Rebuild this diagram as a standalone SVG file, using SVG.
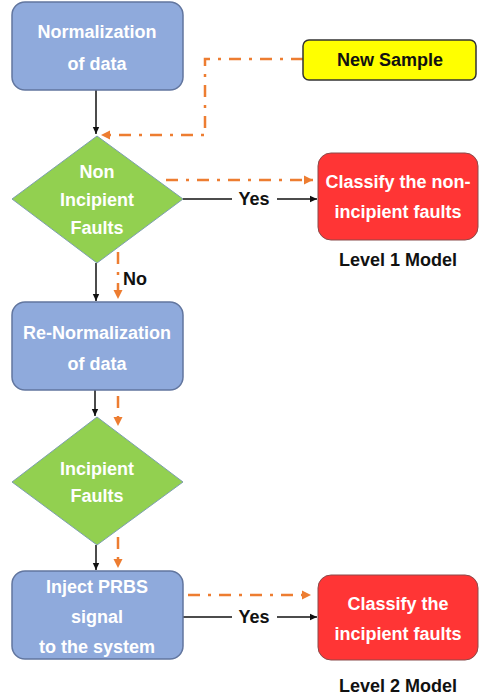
<svg xmlns="http://www.w3.org/2000/svg" width="480" height="698" viewBox="0 0 480 698">
  <style>
    .proc { fill: #8FAADC; stroke: #62769f; stroke-width: 1.5; }
    .dec { fill: #92D050; stroke: #7d9fb0; stroke-width: 1; }
    .out { fill: #FF3535; stroke: #8a4a4a; stroke-width: 1; }
    .sample { fill: #FFFF00; stroke: #333333; stroke-width: 1.5; }
    .lbl { font-family: "Liberation Sans", Arial, sans-serif; font-weight: bold; font-size: 18px; text-anchor: middle; }
    .w { fill: #ffffff; }
    .k { fill: #111111; }
    .flow { fill: none; stroke: #111111; stroke-width: 1.5; }
    .alt { fill: none; stroke: #ED7D31; stroke-width: 2.5; stroke-dasharray: 12 8 3 8; }
  </style>
  <defs>
    <marker id="arrK" markerUnits="userSpaceOnUse" markerWidth="8" markerHeight="8" refX="7" refY="4" orient="auto">
      <path d="M0,0.8 L7,4 L0,7.2 Z" fill="#111111"/>
    </marker>
    <marker id="arrO" markerUnits="userSpaceOnUse" markerWidth="10" markerHeight="10" refX="9" refY="5" orient="auto">
      <path d="M0,0.5 L9,5 L0,9.5 Z" fill="#ED7D31"/>
    </marker>
  </defs>

  <!-- connectors -->
  <g id="connectors">
    <path class="flow" d="M96,90 V134" marker-end="url(#arrK)"/>
    <path class="flow" d="M96,263 V301" marker-end="url(#arrK)"/>
    <path class="flow" d="M95,390 V416" marker-end="url(#arrK)"/>
    <path class="flow" d="M96,545 V570" marker-end="url(#arrK)"/>
    <path class="flow" d="M183,199 H232"/>
    <path class="flow" d="M277,199 H317" marker-end="url(#arrK)"/>
    <path class="flow" d="M183,617 H232"/>
    <path class="flow" d="M277,617 H317" marker-end="url(#arrK)"/>

    <path class="alt" d="M303,59 H205 V135 H101" marker-end="url(#arrO)"/>
    <path class="alt" d="M166,180 H313" marker-end="url(#arrO)"/>
    <path class="alt" d="M118,252 V299" marker-end="url(#arrO)"/>
    <path class="alt" d="M118,396 V426" marker-end="url(#arrO)"/>
    <path class="alt" d="M118,537 V568" marker-end="url(#arrO)"/>
    <path class="alt" d="M188,595 H311" marker-end="url(#arrO)"/>

    <text class="lbl k" x="254" y="205">Yes</text>
    <text class="lbl k" x="254" y="623">Yes</text>
    <text class="lbl k" x="135" y="285">No</text>
  </g>

  <g id="normalization">
    <rect class="proc" x="12" y="2" width="171" height="88" rx="13"/>
    <text class="lbl w" x="97" y="38">Normalization</text>
    <text class="lbl w" x="97" y="70">of data</text>
  </g>

  <g id="new-sample">
    <rect class="sample" x="303" y="40" width="173" height="40" rx="6"/>
    <text class="lbl k" x="390" y="66">New Sample</text>
  </g>

  <g id="non-incipient">
    <polygon class="dec" points="97,136 183,199 97,263 12,199"/>
    <text class="lbl w" x="97" y="178">Non</text>
    <text class="lbl w" x="97" y="206">Incipient</text>
    <text class="lbl w" x="97" y="234">Faults</text>
  </g>

  <g id="classify-non-incipient">
    <rect class="out" x="318" y="153" width="160" height="87" rx="13"/>
    <text class="lbl w" x="398" y="188">Classify the non-</text>
    <text class="lbl w" x="398" y="218">incipient faults</text>
    <text class="lbl k" x="398" y="266">Level 1 Model</text>
  </g>

  <g id="re-normalization">
    <rect class="proc" x="12" y="302" width="171" height="88" rx="13"/>
    <text class="lbl w" x="97" y="339">Re-Normalization</text>
    <text class="lbl w" x="97" y="370">of data</text>
  </g>

  <g id="incipient">
    <polygon class="dec" points="97,417 183,482 97,545 12,482"/>
    <text class="lbl w" x="97" y="475">Incipient</text>
    <text class="lbl w" x="97" y="502">Faults</text>
  </g>

  <g id="inject-prbs">
    <rect class="proc" x="12" y="571" width="171" height="88" rx="13"/>
    <text class="lbl w" x="97" y="593">Inject PRBS</text>
    <text class="lbl w" x="97" y="623">signal</text>
    <text class="lbl w" x="97" y="653">to the system</text>
  </g>

  <g id="classify-incipient">
    <rect class="out" x="318" y="575" width="160" height="85" rx="13"/>
    <text class="lbl w" x="398" y="610">Classify the</text>
    <text class="lbl w" x="398" y="640">incipient faults</text>
    <text class="lbl k" x="398" y="692">Level 2 Model</text>
  </g>
</svg>
